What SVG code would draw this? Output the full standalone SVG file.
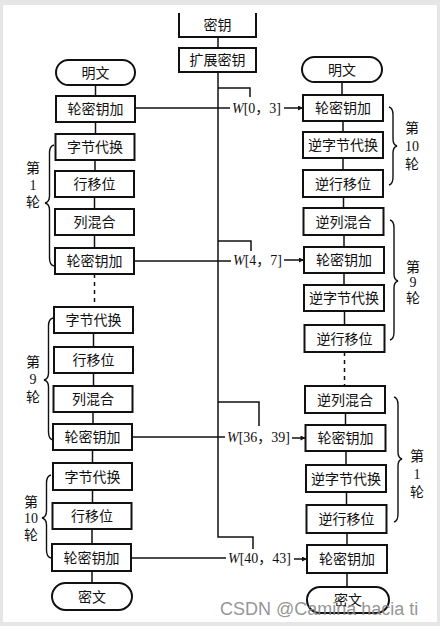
<svg xmlns="http://www.w3.org/2000/svg" width="440" height="626" viewBox="0 0 440 626">
<defs>
<style>
.box{fill:#fff;stroke:#111;stroke-width:2}
.t{font-family:"Noto Sans CJK SC",sans-serif;font-size:14px;text-anchor:middle;fill:#111}
.lb{font-family:"Liberation Serif","Noto Sans CJK SC",serif;font-size:14px;text-anchor:middle;fill:#111}
.w{font-family:"Liberation Serif","Noto Sans CJK SC",serif;font-size:14px;fill:#111}
.ln{stroke:#111;stroke-width:1.5;fill:none}
.dash{stroke:#111;stroke-width:1.5;fill:none;stroke-dasharray:4 4}
.br{stroke:#111;stroke-width:1.4;fill:none}
</style>
<marker id="ah" viewBox="0 0 10 10" refX="10" refY="5" markerWidth="7" markerHeight="5" markerUnits="userSpaceOnUse" orient="auto"><path d="M0,0 L10,5 L0,10 z" fill="#111"/></marker>
</defs>
<rect x="0" y="0" width="440" height="626" fill="#e6e6e6"/>
<rect x="3" y="5" width="434" height="617" fill="#fff"/>

<g id="connectors">
<path class="ln" d="M95.5,85 V96 M95.5,122 V134 M95,160 V171 M94.5,197 V209 M94.5,235 V248 M93.5,333 V347 M93.5,373 V386 M93,412 V424 M92.5,450 V463 M92.5,490 V503 M92,529 V544 M92,571 V583"/>
<path class="dash" d="M94.5,274 V307"/>
<path class="ln" d="M342,82 V95 M343,121 V132 M343,158 V170 M343.5,197 V208 M344,235 V247 M344,273 V285 M344.5,311 V325 M345.5,413 V425 M346,451 V465 M346.5,492 V505 M347,533 V545 M347,573 V587"/>
<path class="dash" d="M344.5,352 V386"/>
<path class="ln" d="M218,37 V48 M218,72 V537 H253 V549"/>
<path class="ln" d="M218,88 H250 V97"/>
<path class="ln" d="M218,241 H251 V251"/>
<path class="ln" d="M218,402 H259 V426"/>
<path class="ln" d="M135,108 H230"/>
<path class="ln" d="M134,261 H231"/>
<path class="ln" d="M132,437 H225"/>
<path class="ln" d="M131,558 H226"/>
<path class="ln" d="M284,108 H303" marker-end="url(#ah)"/>
<path class="ln" d="M284,260 H304" marker-end="url(#ah)"/>
<path class="ln" d="M292,438 H305.5" marker-end="url(#ah)"/>
<path class="ln" d="M294,559 H307" marker-end="url(#ah)"/>
</g>

<g id="w-labels">
<text class="w" x="232" y="113"><tspan font-style="italic">W</tspan>[0，3]</text>
<text class="w" x="233" y="265"><tspan font-style="italic">W</tspan>[4，7]</text>
<text class="w" x="227" y="442"><tspan font-style="italic">W</tspan>[36，39]</text>
<text class="w" x="228" y="563"><tspan font-style="italic">W</tspan>[40，43]</text>
</g>

<g id="key"><path class="box" d="M179,13 V37 H256 V13" fill="#fff"/><text class="t" x="217.5" y="30">密钥</text></g>
<g id="expkey"><rect class="box" x="179" y="48" width="77" height="24"/><text class="t" x="217.5" y="65">扩展密钥</text></g>

<g id="L-plain"><rect class="box" x="56" y="60" width="79" height="25" rx="12.5"/><text class="t" x="95.5" y="77.5">明文</text></g>
<g id="L-ark0"><rect class="box" x="56" y="96" width="79" height="26"/><text class="t" x="95.5" y="114">轮密钥加</text></g>
<g id="L-sb1"><rect class="box" x="55.5" y="134" width="79" height="26"/><text class="t" x="95" y="152">字节代换</text></g>
<g id="L-sr1"><rect class="box" x="55" y="171" width="79" height="26"/><text class="t" x="94.5" y="189">行移位</text></g>
<g id="L-mc1"><rect class="box" x="55" y="209" width="79" height="26"/><text class="t" x="94.5" y="227">列混合</text></g>
<g id="L-ark1"><rect class="box" x="55" y="248" width="79" height="26"/><text class="t" x="94.5" y="266">轮密钥加</text></g>
<g id="L-sb9"><rect class="box" x="54" y="307" width="79" height="26"/><text class="t" x="93.5" y="325">字节代换</text></g>
<g id="L-sr9"><rect class="box" x="54" y="347" width="79" height="26"/><text class="t" x="93.5" y="365">行移位</text></g>
<g id="L-mc9"><rect class="box" x="53.5" y="386" width="79" height="26"/><text class="t" x="93" y="404">列混合</text></g>
<g id="L-ark9"><rect class="box" x="53" y="424" width="79" height="26"/><text class="t" x="92.5" y="442">轮密钥加</text></g>
<g id="L-sb10"><rect class="box" x="53" y="463" width="79" height="27"/><text class="t" x="92.5" y="481.5">字节代换</text></g>
<g id="L-sr10"><rect class="box" x="52.5" y="503" width="79" height="26"/><text class="t" x="92" y="521">行移位</text></g>
<g id="L-ark10"><rect class="box" x="52" y="544" width="79" height="27"/><text class="t" x="91.5" y="562.5">轮密钥加</text></g>
<g id="L-cipher"><rect class="box" x="52" y="583" width="80" height="27" rx="13.5"/><text class="t" x="92" y="601.5">密文</text></g>

<g id="R-plain"><rect class="box" x="302" y="57" width="80" height="25" rx="12.5"/><text class="t" x="342" y="74.5">明文</text></g>
<g id="R-ark0"><rect class="box" x="303" y="95" width="80" height="26"/><text class="t" x="343" y="113">轮密钥加</text></g>
<g id="R-isb1"><rect class="box" x="303" y="132" width="80" height="26"/><text class="t" x="343" y="150">逆字节代换</text></g>
<g id="R-isr1"><rect class="box" x="303" y="170" width="80" height="27"/><text class="t" x="343" y="188.5">逆行移位</text></g>
<g id="R-imc1"><rect class="box" x="303.5" y="208" width="80" height="27"/><text class="t" x="343.5" y="226.5">逆列混合</text></g>
<g id="R-ark1"><rect class="box" x="304" y="247" width="80" height="26"/><text class="t" x="344" y="265">轮密钥加</text></g>
<g id="R-isb2"><rect class="box" x="304" y="285" width="80" height="26"/><text class="t" x="344" y="303">逆字节代换</text></g>
<g id="R-isr2"><rect class="box" x="304.5" y="325" width="80" height="27"/><text class="t" x="344.5" y="343.5">逆行移位</text></g>
<g id="R-imc9"><rect class="box" x="305" y="386" width="80" height="27"/><text class="t" x="345" y="404.5">逆列混合</text></g>
<g id="R-ark9"><rect class="box" x="305.5" y="425" width="80" height="26"/><text class="t" x="345.5" y="443">轮密钥加</text></g>
<g id="R-isb10"><rect class="box" x="306" y="465" width="80" height="27"/><text class="t" x="346" y="483.5">逆字节代换</text></g>
<g id="R-isr10"><rect class="box" x="306.5" y="505" width="80" height="28"/><text class="t" x="346.5" y="524">逆行移位</text></g>
<g id="R-ark10"><rect class="box" x="307" y="545" width="80" height="28"/><text class="t" x="347" y="564">轮密钥加</text></g>
<g id="R-cipher"><rect class="box" x="307" y="587" width="82" height="26" rx="13"/><text class="t" x="348" y="605">密文</text></g>

<g id="brace-L1">
<path class="br" d="M54,145 Q49.5,146 49.5,153 L49.5,196 Q49.5,202 45,203 Q49.5,204 49.5,210 L49.5,258 Q49.5,265 54,266"/>
<text class="lb" x="33" y="173">第</text><text class="lb" x="33" y="190">1</text><text class="lb" x="33" y="207">轮</text>
</g>
<g id="brace-L9">
<path class="br" d="M53,318 Q48.5,319 48.5,326 L48.5,373 Q48.5,379 44,380 Q48.5,381 48.5,387 L48.5,432 Q48.5,439 53,440"/>
<text class="lb" x="33" y="367">第</text><text class="lb" x="33" y="384">9</text><text class="lb" x="33" y="402">轮</text>
</g>
<g id="brace-L10">
<path class="br" d="M51,475 Q46.5,476 46.5,483 L46.5,511 Q46.5,517 42,518 Q46.5,519 46.5,525 L46.5,550 Q46.5,557 51,558"/>
<text class="lb" x="31" y="507">第</text><text class="lb" x="31" y="523">10</text><text class="lb" x="31" y="540">轮</text>
</g>
<g id="brace-R10">
<path class="br" d="M389,107 Q393,108 393,115 L393,139 Q393,145 397,146 Q393,147 393,153 L393,177 Q393,184 389,185"/>
<text class="lb" x="412" y="133">第</text><text class="lb" x="412" y="151">10</text><text class="lb" x="412" y="169">轮</text>
</g>
<g id="brace-R9">
<path class="br" d="M390,220 Q394,221 394,228 L394,274 Q394,280 398,281 Q394,282 394,288 L394,332 Q394,339 390,340"/>
<text class="lb" x="413" y="272">第</text><text class="lb" x="413" y="287">9</text><text class="lb" x="413" y="303">轮</text>
</g>
<g id="brace-R1">
<path class="br" d="M394,397 Q398,398 398,405 L398,452 Q398,458 402,459 Q398,460 398,466 L398,514 Q398,521 394,522"/>
<text class="lb" x="417" y="461">第</text><text class="lb" x="417" y="479">1</text><text class="lb" x="417" y="497">轮</text>
</g>

<text x="220" y="615" font-family="Liberation Sans, sans-serif" font-size="18" fill="#888" fill-opacity="0.9">CSDN @Camina hacia ti</text>
</svg>
